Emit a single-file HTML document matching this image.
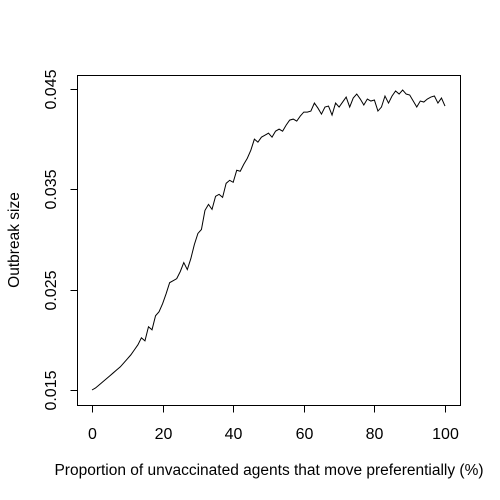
<!DOCTYPE html>
<html><head><meta charset="utf-8"><style>body{margin:0;background:#fff}svg{display:block;font-family:"Liberation Sans",Arial,sans-serif}</style></head>
<body>
<svg id="chart" width="500" height="500" xmlns="http://www.w3.org/2000/svg"></svg>
<script>
const xTicks = [0, 20, 40, 60, 80, 100];
const yTicks = [0.015, 0.025, 0.035, 0.045];
const yTickLabels = ["0.015", "0.025", "0.035", "0.045"];
const outbreakSize = [
.0150,.0152,.0155,.0158,.0161,.0164,.0167,.0170,.0173,.0177,.0181,
.0185,.0190,.0195,.0202,.0199,.0213,.0210,.0224,.0228,.0236,
.0246,.0257,.0259,.0261,.0268,.0277,.0270,.0281,.0295,.0306,
.0310,.0329,.0335,.0330,.0343,.0345,.0342,.0356,.0359,.0357,
.0369,.0368,.0375,.0381,.0389,.0400,.0397,.0402,.0404,.0406,
.0402,.0408,.0410,.0408,.0414,.0419,.0420,.0418,.0423,.0427,
.0427,.0428,.0436,.0431,.0425,.0432,.0433,.0424,.0436,.0432,
.0437,.0442,.0432,.0441,.0445,.0440,.0434,.0440,.0438,.0439,
.0428,.0432,.0443,.0436,.0443,.0448,.0445,.0449,.0445,.0444,
.0438,.0432,.0438,.0437,.0440,.0442,.0443,.0436,.0441,.0433];
const proportions = outbreakSize.map((_, i) => i);

const svg = document.getElementById('chart');
const NS = 'http://www.w3.org/2000/svg';
const xs = v => 92 + (v / 100) * 353;
const ys = v => 390 - (v - 0.015) / 0.03 * 301;
function mk(tag, attrs, parent) {
  const e = document.createElementNS(NS, tag);
  for (const k in attrs) e.setAttribute(k, attrs[k]);
  (parent || svg).appendChild(e);
  return e;
}
const box = mk('rect', {x: 77.5, y: 75.5, width: 383, height: 330, fill: 'none', stroke: '#000'});



const xAxis = mk('g', {});


mk('line', {x1: xs(0), x2: xs(100), y1: 405.5, y2: 405.5, stroke: '#000'}, xAxis);
xTicks.forEach(t => {
  const x = Math.round(xs(t)) + 0.5;
  mk('line', {x1: x, x2: x, y1: 405.5, y2: 412.5, stroke: '#000'}, xAxis);
  const tx = mk('text', {x: x, y: 439, 'text-anchor': 'middle', 'font-size': 16}, xAxis);
  tx.textContent = t;
  
  
});

const yAxis = mk('g', {});


mk('line', {x1: 77.5, x2: 77.5, y1: ys(0.015), y2: ys(0.045), stroke: '#000'}, yAxis);
yTicks.forEach((t, i) => {
  const y = Math.round(ys(t)) + 0.5;
  mk('line', {x1: 70.5, x2: 77.5, y1: y, y2: y, stroke: '#000'}, yAxis);
  const tx = mk('text', {x: 56, y: y, 'text-anchor': 'middle', 'font-size': 16, transform: `rotate(-90 56 ${y})`}, yAxis);
  tx.textContent = yTickLabels[i];
  
  
});

const pts = proportions.map((p, i) => xs(p).toFixed(2) + ',' + ys(outbreakSize[i]).toFixed(2)).join(' ');
const line = mk('polyline', {points: pts, fill: 'none', stroke: '#000', 'stroke-width': 1});



const xl = mk('text', {x: 269, y: 475, 'text-anchor': 'middle', 'font-size': 15.5});
xl.textContent = 'Proportion of unvaccinated agents that move preferentially (%)';


const yl = mk('text', {x: 19, y: 240, 'text-anchor': 'middle', 'font-size': 15.5, transform: 'rotate(-90 19 240)'});
yl.textContent = 'Outbreak size';


</script>
</body></html>
